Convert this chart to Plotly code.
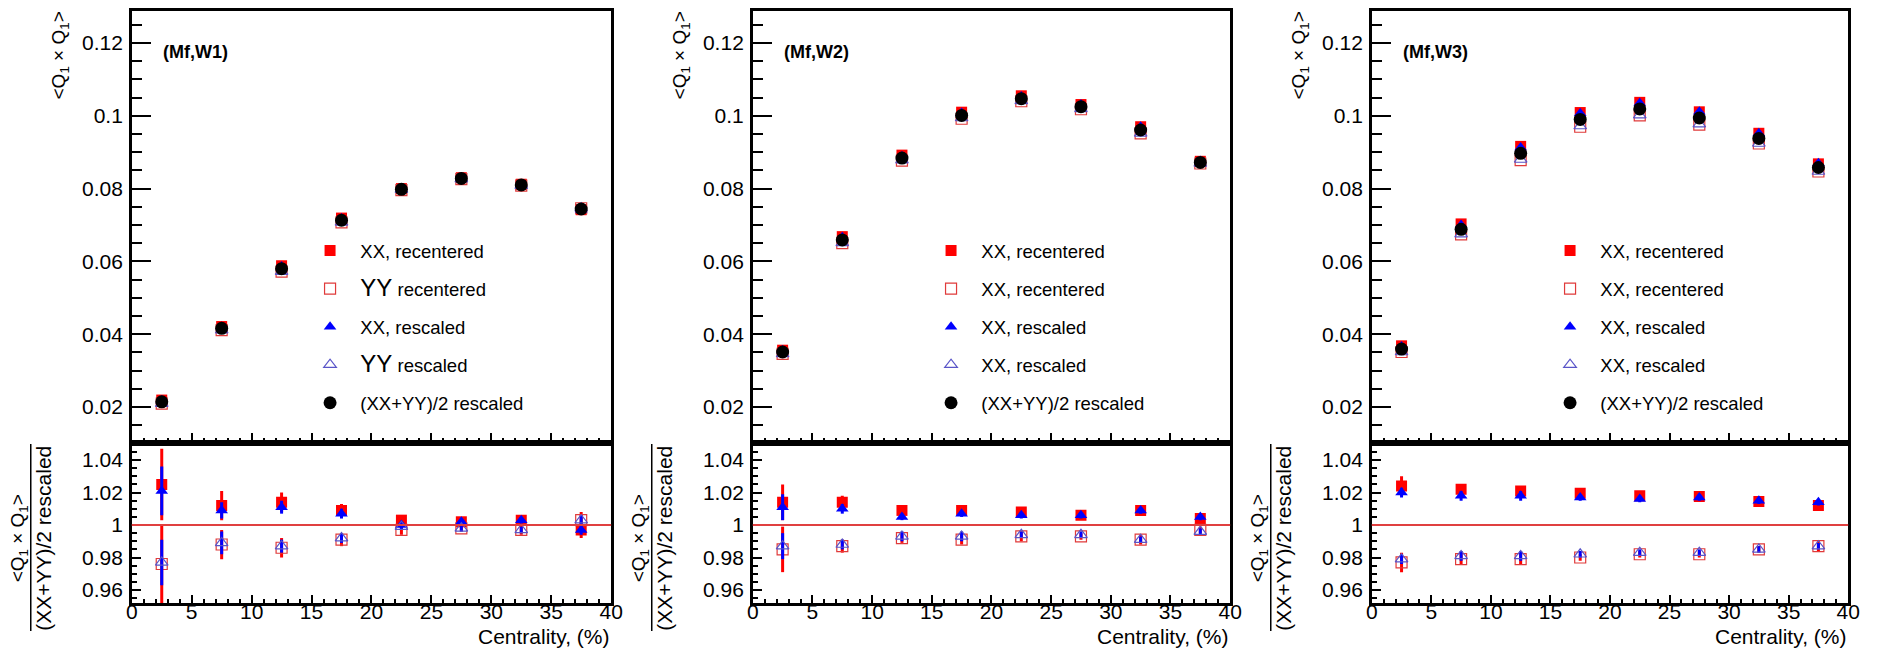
import plotly.graph_objects as go

# ---------------- data ----------------
centrality = [2.5, 7.5, 12.5, 17.5, 22.5, 27.5, 32.5, 37.5]
panel_labels = ["(Mf,W1)", "(Mf,W2)", "(Mf,W3)"]
legend_names = [
    ["XX, recentered", "<span style='font-size:24px'>YY</span> recentered", "XX, rescaled",
     "<span style='font-size:24px'>YY</span> rescaled", "(XX+YY)/2 rescaled"],
    ["XX, recentered", "XX, recentered", "XX, rescaled", "XX, rescaled", "(XX+YY)/2 rescaled"],
    ["XX, recentered", "XX, recentered", "XX, rescaled", "XX, rescaled", "(XX+YY)/2 rescaled"],
]

# upper panels: <Q1 x Q1>
w1_xx_rec = [0.0219, 0.0421, 0.0588, 0.0719, 0.0800, 0.0830, 0.0812, 0.0742]
w1_yy_rec = [0.0209, 0.0411, 0.0572, 0.0707, 0.0796, 0.0826, 0.0808, 0.0746]
w1_xx_res = [0.0218, 0.0420, 0.0586, 0.0718, 0.0798, 0.0830, 0.0812, 0.0742]
w1_yy_res = [0.0209, 0.0411, 0.0572, 0.0707, 0.0797, 0.0826, 0.0808, 0.0746]
w1_mean = [0.0214, 0.0416, 0.0580, 0.0713, 0.0798, 0.0828, 0.0810, 0.0744]

w2_xx_rec = [0.0356, 0.0668, 0.0892, 0.1010, 0.1055, 0.1031, 0.0970, 0.0875]
w2_yy_rec = [0.0346, 0.0650, 0.0877, 0.0992, 0.1040, 0.1018, 0.0952, 0.0869]
w2_xx_res = [0.0355, 0.0666, 0.0888, 0.1008, 0.1053, 0.1031, 0.0970, 0.0876]
w2_yy_res = [0.0346, 0.0651, 0.0878, 0.0994, 0.1041, 0.1019, 0.0952, 0.0869]
w2_mean = [0.0351, 0.0659, 0.0884, 0.1001, 0.1047, 0.1025, 0.0961, 0.0872]

w3_xx_rec = [0.0368, 0.0703, 0.0916, 0.1009, 0.1037, 0.1011, 0.0952, 0.0868]
w3_yy_rec = [0.0351, 0.0674, 0.0878, 0.0970, 0.1001, 0.0976, 0.0924, 0.0847]
w3_xx_res = [0.0366, 0.0700, 0.0913, 0.1007, 0.1035, 0.1011, 0.0952, 0.0870]
w3_yy_res = [0.0351, 0.0675, 0.0880, 0.0972, 0.1002, 0.0977, 0.0924, 0.0847]
w3_mean = [0.0359, 0.0688, 0.0897, 0.0990, 0.1019, 0.0994, 0.0938, 0.0858]

# lower panels: ratio to (XX+YY)/2 rescaled
w1_r_xx_rec = [1.025, 1.012, 1.014, 1.009, 1.003, 1.002, 1.003, 0.997]
w1_r_yy_rec = [0.976, 0.988, 0.986, 0.991, 0.997, 0.998, 0.997, 1.003]
w1_r_xx_res = [1.021, 1.009, 1.011, 1.007, 1.000, 1.002, 1.003, 0.997]
w1_r_yy_res = [0.977, 0.989, 0.987, 0.992, 0.999, 0.998, 0.997, 1.003]
w1_e_rec_xx = [0.022, 0.009, 0.006, 0.004, 0.003, 0.002, 0.003, 0.005]
w1_e_rec_yy = [0.024, 0.009, 0.006, 0.004, 0.003, 0.002, 0.003, 0.005]
w1_e_res_xx = [0.015, 0.005, 0.004, 0.003, 0.002, 0.002, 0.002, 0.003]
w1_e_res_yy = [0.014, 0.007, 0.004, 0.003, 0.002, 0.002, 0.002, 0.003]

w2_r_xx_rec = [1.014, 1.014, 1.009, 1.009, 1.008, 1.006, 1.009, 1.004]
w2_r_yy_rec = [0.985, 0.987, 0.992, 0.991, 0.993, 0.993, 0.991, 0.997]
w2_r_xx_res = [1.011, 1.010, 1.005, 1.007, 1.006, 1.006, 1.009, 1.005]
w2_r_yy_res = [0.987, 0.988, 0.993, 0.993, 0.994, 0.994, 0.991, 0.996]
w2_e_rec_xx = [0.011, 0.004, 0.003, 0.003, 0.003, 0.002, 0.003, 0.002]
w2_e_rec_yy = [0.014, 0.004, 0.003, 0.003, 0.003, 0.002, 0.003, 0.002]
w2_e_res_xx = [0.008, 0.003, 0.002, 0.002, 0.002, 0.002, 0.002, 0.002]
w2_e_res_yy = [0.008, 0.003, 0.003, 0.003, 0.002, 0.002, 0.002, 0.002]

w3_r_xx_rec = [1.024, 1.022, 1.021, 1.0195, 1.018, 1.0175, 1.0145, 1.012]
w3_r_yy_rec = [0.977, 0.979, 0.979, 0.980, 0.982, 0.982, 0.985, 0.987]
w3_r_xx_res = [1.020, 1.018, 1.018, 1.017, 1.016, 1.017, 1.015, 1.014]
w3_r_yy_res = [0.979, 0.981, 0.981, 0.982, 0.983, 0.983, 0.985, 0.987]
w3_e_rec_xx = [0.006, 0.003, 0.003, 0.002, 0.002, 0.002, 0.002, 0.003]
w3_e_rec_yy = [0.006, 0.003, 0.003, 0.002, 0.002, 0.002, 0.002, 0.003]
w3_e_res_xx = [0.003, 0.003, 0.003, 0.002, 0.002, 0.002, 0.002, 0.002]
w3_e_res_yy = [0.003, 0.003, 0.003, 0.002, 0.002, 0.002, 0.002, 0.002]

upper = [
    [w1_xx_rec, w1_yy_rec, w1_xx_res, w1_yy_res, w1_mean],
    [w2_xx_rec, w2_yy_rec, w2_xx_res, w2_yy_res, w2_mean],
    [w3_xx_rec, w3_yy_rec, w3_xx_res, w3_yy_res, w3_mean],
]
lower = [
    [w1_r_xx_rec, w1_r_yy_rec, w1_r_xx_res, w1_r_yy_res],
    [w2_r_xx_rec, w2_r_yy_rec, w2_r_xx_res, w2_r_yy_res],
    [w3_r_xx_rec, w3_r_yy_rec, w3_r_xx_res, w3_r_yy_res],
]
lower_err = [
    [w1_e_rec_xx, w1_e_rec_yy, w1_e_res_xx, w1_e_res_yy],
    [w2_e_rec_xx, w2_e_rec_yy, w2_e_res_xx, w2_e_res_yy],
    [w3_e_rec_xx, w3_e_rec_yy, w3_e_res_xx, w3_e_res_yy],
]

# ---------------- style ----------------
W, H = 1878, 652
FONT = "Liberation Sans, Arial, Helvetica, sans-serif"
markers = [
    dict(symbol="square", color="#ff0000", size=11),
    dict(symbol="square-open", color="#e03a3a", size=11, line=dict(width=1.2, color="#e03a3a")),
    dict(symbol="triangle-up", color="#0000ff", size=11),
    dict(symbol="triangle-up-open", color="#5a55c8", size=11, line=dict(width=1.2, color="#5a55c8")),
    dict(symbol="circle", color="#000000", size=13),
]
err_colors = ["#ff0000", "#ff0000", "#0000ff", "#0000ff"]

frame_px = [(127, 611), (754, 1236), (1379, 1860)]
up_top, mid, low_bot = 11, 443, 603
PAD = "\u00a0" * 2


def px_x(p):
    return p / W


def px_y(p):
    return 1 - p / H


fig = go.Figure()
layout = dict(
    width=W, height=H, margin=dict(l=0, r=0, t=0, b=0),
    paper_bgcolor="white", plot_bgcolor="white",
    font=dict(family=FONT, size=21, color="black"),
    showlegend=True,
    annotations=[], shapes=[],
)

axis_common = dict(showgrid=False, zeroline=False, showline=True, linecolor="black",
                   linewidth=2.5, mirror=True, ticks="inside", tickcolor="black",
                   tickwidth=2, tickfont=dict(family=FONT, size=21, color="black"))

for p in range(3):
    L, R = frame_px[p]
    xd = [px_x(L), px_x(R)]
    ui, li = p + 1, p + 4
    leg = "legend" if p == 0 else "legend%d" % (p + 1)
    # upper panel traces
    for s in range(5):
        fig.add_trace(go.Scatter(
            x=centrality, y=upper[p][s], mode="markers", marker=markers[s],
            name=PAD + legend_names[p][s], legend=leg, legendgroup="g%d_%d" % (p, s),
            xaxis="x%d" % ui, yaxis="y%d" % ui, showlegend=True, cliponaxis=False))
    # lower panel traces
    for s in range(4):
        fig.add_trace(go.Scatter(
            x=centrality, y=lower[p][s], mode="markers", marker=markers[s],
            error_y=dict(type="data", array=lower_err[p][s], color=err_colors[s],
                         thickness=3, width=0),
            xaxis="x%d" % li, yaxis="y%d" % li, showlegend=False))

    layout["xaxis%d" % ui] = dict(axis_common, domain=xd, anchor="y%d" % ui, range=[0, 40],
                                  tick0=0, dtick=5, ticklen=10, showticklabels=False,
                                  minor=dict(ticks="inside", dtick=1, ticklen=5,
                                             tickcolor="black", tickwidth=2))
    layout["yaxis%d" % ui] = dict(axis_common, domain=[px_y(mid), px_y(up_top)],
                                  anchor="x%d" % ui, range=[0.0101, 0.1288], tick0=0,
                                  dtick=0.02, ticklen=19, ticklabelstandoff=2,
                                  minor=dict(ticks="inside", dtick=0.005, ticklen=10,
                                             tickcolor="black", tickwidth=2))
    layout["xaxis%d" % li] = dict(axis_common, domain=xd, anchor="y%d" % li, range=[0, 40],
                                  tick0=0, dtick=5, ticklen=8, ticklabelstandoff=-12,
                                  minor=dict(ticks="inside", dtick=1, ticklen=4,
                                             tickcolor="black", tickwidth=2))
    layout["yaxis%d" % li] = dict(axis_common, domain=[px_y(low_bot), px_y(mid)],
                                  anchor="x%d" % li, range=[0.952, 1.0505], tick0=0,
                                  dtick=0.02, ticklen=9, ticklabelstandoff=2,
                                  minor=dict(ticks="inside", dtick=0.005, ticklen=5,
                                             tickcolor="black", tickwidth=2))

    layout[leg] = dict(x=px_x(L + 180), y=px_y(232), xanchor="left", yanchor="top",
                       bgcolor="rgba(0,0,0,0)", tracegroupgap=11,
                       font=dict(family=FONT, size=18.5, color="black"))

    # reference line at 1
    layout["shapes"].append(dict(type="line", xref="x%d domain" % li, x0=0, x1=1,
                                 yref="y%d" % li, y0=1, y1=1,
                                 line=dict(color="#e04040", width=2)))
    # fraction bar for lower y title
    layout["shapes"].append(dict(type="line", xref="paper", yref="paper",
                                 x0=px_x(L - 102), x1=px_x(L - 102),
                                 y0=px_y(444), y1=px_y(631),
                                 line=dict(color="black", width=1.5)))
    anns = layout["annotations"]
    anns.append(dict(text="&lt;Q<sub>1</sub> × Q<sub>1</sub>&gt;", textangle=-90,
                     xref="paper", yref="paper", x=px_x(L - 72), y=px_y(9),
                     xanchor="center", yanchor="top", showarrow=False,
                     font=dict(family=FONT, size=19)))
    anns.append(dict(text="<span style='font-size:19px'>&lt;Q<sub>1</sub> × Q<sub>1</sub>&gt;</span>"
                          "<br>(XX+YY)/2 rescaled", textangle=-90, align="center",
                     xref="paper", yref="paper", x=px_x(L - 102), y=px_y(538),
                     xanchor="center", yanchor="middle", showarrow=False,
                     font=dict(family=FONT, size=21)))
    anns.append(dict(text="Centrality, (%)", xref="paper", yref="paper",
                     x=px_x(R), y=px_y(636), xanchor="right", yanchor="middle",
                     showarrow=False, font=dict(family=FONT, size=21)))
    anns.append(dict(text="<b>" + panel_labels[p] + "</b>", xref="paper", yref="paper",
                     x=px_x(L + 30), y=px_y(52), xanchor="left", yanchor="middle",
                     showarrow=False, font=dict(family=FONT, size=18)))

fig.update_layout(**layout)
fig.write_html("out.html", config={"displayModeBar": False},
               post_script="document.body.style.margin='0px';document.body.style.overflow='hidden';")
